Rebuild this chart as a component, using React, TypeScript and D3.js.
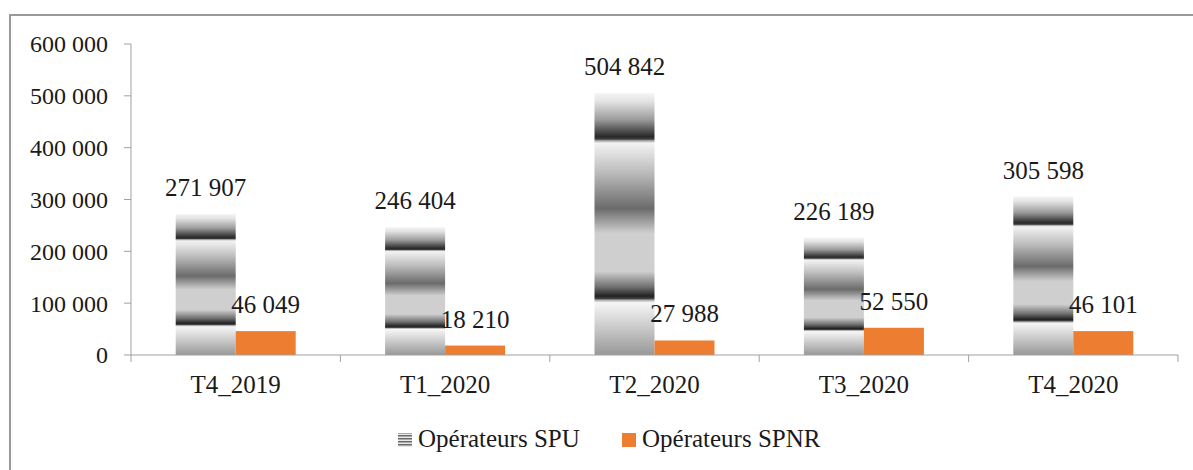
import * as d3 from "d3";

const categories = ["T4_2019", "T1_2020", "T2_2020", "T3_2020", "T4_2020"];
const series = ["Opérateurs SPU", "Opérateurs SPNR"];
const spuValues = [271907, 246404, 504842, 226189, 305598];
const spnrValues = [46049, 18210, 27988, 52550, 46101];
const yTicks = [0, 100000, 200000, 300000, 400000, 500000, 600000];

const W = 1193;
const H = 470;
const FONT = "Liberation Serif";
const ORANGE = "#ed7d31";
const AXIS = "#a0a0a0";

// banded grey fill, stretched over each bar like the Excel texture
const gradStops: [number, string][] = [
  [0, "#f4f4f4"],
  [0.03, "#e4e4e4"],
  [0.1, "#9c9c9c"],
  [0.165, "#2a2a2a"],
  [0.175, "#3c3c3c"],
  [0.18, "#9a9a9a"],
  [0.19, "#f3f3f3"],
  [0.3, "#bdbdbd"],
  [0.44, "#6b6b6b"],
  [0.535, "#cfcfcf"],
  [0.68, "#cfcfcf"],
  [0.74, "#707070"],
  [0.775, "#222222"],
  [0.785, "#444444"],
  [0.79, "#ababab"],
  [0.8, "#f6f6f6"],
  [1, "#989898"],
];

const fmt = (v: number) => d3.format(",")(v).replace(/,/g, " ");

export default function App() {
  const x = d3.scaleBand().domain(categories).range([131, 1178]).padding(0);
  const inner = d3
    .scaleBand()
    .domain(series)
    .range([0, x.bandwidth()])
    .paddingInner(0)
    .paddingOuter(0.745);
  const y = d3.scaleLinear().domain([0, 600000]).range([355, 44]);

  const bars = categories.flatMap((c, i) => [
    { cat: c, s: series[0], v: spuValues[i] },
    { cat: c, s: series[1], v: spnrValues[i] },
  ]);

  const boundaries = [...categories.map((c) => x(c)!), x.range()[1]];
  const textStyle = { fontFamily: FONT };

  return (
    <svg
      width={W}
      height={H}
      style={{ position: "absolute", left: 0, top: 0, display: "block", background: "#fff" }}
    >
      <defs>
        <linearGradient id="spuFill" x1="0" y1="0" x2="0" y2="1">
          {gradStops.map(([o, c], i) => (
            <stop key={i} offset={o} stopColor={c} />
          ))}
        </linearGradient>
        <pattern id="spuLegend" width="4" height="3" patternUnits="userSpaceOnUse">
          <rect width="4" height="3" fill="#e8e8e8" />
          <rect width="4" height="1.5" fill="#6a6a6a" />
        </pattern>
      </defs>

      {/* chart frame */}
      <line x1={10} x2={W} y1={15} y2={15} stroke="#999" strokeWidth={2} />
      <line x1={10} x2={10} y1={14} y2={H} stroke="#999" strokeWidth={2} />

      {/* y axis */}
      <line x1={131} x2={131} y1={y(600000)} y2={y(0)} stroke={AXIS} />
      {yTicks.map((t) => (
        <g key={t}>
          <line x1={124} x2={131} y1={y(t)} y2={y(t)} stroke={AXIS} />
          <text
            x={108}
            y={y(t)}
            dy="0.35em"
            textAnchor="end"
            fontSize={24}
            fill="#1a1a1a"
            style={textStyle}
          >
            {fmt(t)}
          </text>
        </g>
      ))}

      {/* bars */}
      {bars.map((b) => {
        const bx = x(b.cat)! + inner(b.s)!;
        return (
          <rect
            key={b.cat + b.s}
            x={bx}
            y={y(b.v)}
            width={inner.bandwidth()}
            height={y(0) - y(b.v)}
            fill={b.s === series[0] ? "url(#spuFill)" : ORANGE}
          />
        );
      })}

      {/* x axis */}
      <line x1={131} x2={1178} y1={y(0)} y2={y(0)} stroke={AXIS} />
      {boundaries.map((bx, i) => (
        <line key={i} x1={bx} x2={bx} y1={y(0)} y2={y(0) + 7} stroke={AXIS} />
      ))}
      {categories.map((c) => (
        <text
          key={c}
          x={x(c)! + x.bandwidth() / 2}
          y={393}
          textAnchor="middle"
          fontSize={25}
          fill="#1a1a1a"
          style={textStyle}
        >
          {c}
        </text>
      ))}

      {/* data labels */}
      {bars.map((b) => (
        <text
          key={"l" + b.cat + b.s}
          x={x(b.cat)! + inner(b.s)! + inner.bandwidth() / 2}
          y={y(b.v) - 18}
          textAnchor="middle"
          fontSize={25}
          fill="#1a1a1a"
          style={textStyle}
        >
          {fmt(b.v)}
        </text>
      ))}

      {/* legend */}
      <rect x={398} y={433} width={14} height={14} fill="url(#spuLegend)" />
      <text x={418} y={447} fontSize={25} fill="#1a1a1a" style={textStyle}>
        {series[0]}
      </text>
      <rect x={622} y={433} width={14} height={14} fill={ORANGE} />
      <text x={642} y={447} fontSize={25} fill="#1a1a1a" style={textStyle}>
        {series[1]}
      </text>
    </svg>
  );
}
